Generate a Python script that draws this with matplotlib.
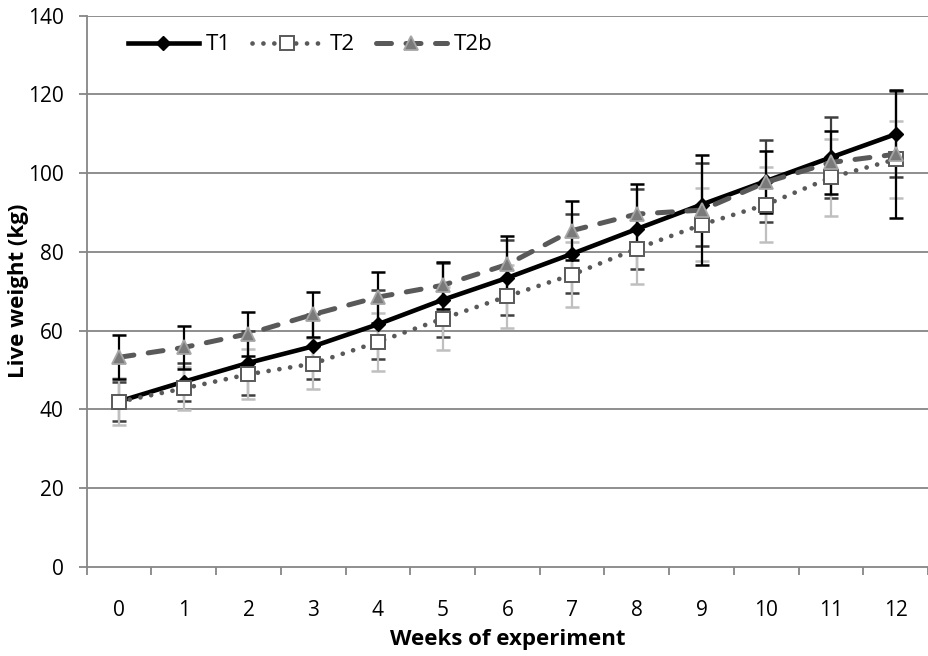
import matplotlib
matplotlib.use("Agg")
import matplotlib.pyplot as plt
import numpy as np

plt.rcParams['font.family'] = ['Open Sans', 'DejaVu Sans']

weeks = list(range(13))
t1 = [42.0, 47.0, 51.8, 56.0, 61.6, 67.8, 73.4, 79.5, 85.8, 92.0, 98.0, 104.0, 109.9]
t1_err = [5.0, 4.8, 8.2, 8.3, 8.7, 9.4, 9.5, 10.0, 10.2, 10.5, 10.5, 10.3, 11.0]
t2 = [41.9, 45.3, 48.9, 51.6, 57.1, 63.0, 68.7, 74.2, 80.8, 86.9, 92.0, 98.9, 103.5]
t2_err = [6.0, 5.5, 6.3, 6.5, 7.3, 8.0, 8.0, 8.2, 8.9, 9.3, 9.5, 9.7, 9.7]
t2b = [53.2, 55.7, 59.2, 64.1, 68.5, 71.5, 76.8, 85.4, 89.6, 90.6, 97.7, 102.7, 104.8]
t2b_err = [5.6, 5.4, 5.6, 5.8, 6.5, 5.9, 7.1, 7.4, 7.6, 13.9, 7.9, 8.0, 16.2]
series_names = ["T1", "T2", "T2b"]

fig = plt.figure(figsize=(9.29, 6.56), dpi=100)
ax = fig.add_axes([0.0933, 0.1361, 0.9057, 0.8400])

grid_c = '#868686'
ax.set_xlim(-0.5, 12.5)
ax.set_ylim(0, 140)
ax.set_yticks(np.arange(0, 141, 20))
for y in np.arange(20, 141, 20):
    ax.axhline(y, color=grid_c, lw=1.3, zorder=0)

ax.set_xticks(weeks)
ax.set_xticks(np.arange(-0.5, 12.6, 1), minor=True)
ax.tick_params(axis='x', which='major', length=0, pad=24, labelsize=15)
ax.tick_params(axis='x', which='minor', length=6, width=1.3, color=grid_c, direction='out')
ax.tick_params(axis='y', length=5.5, width=1.3, color=grid_c, direction='out', labelsize=15, pad=11)
for s in ['top', 'right']:
    ax.spines[s].set_visible(False)
for s in ['left', 'bottom']:
    ax.spines[s].set_color(grid_c)
    ax.spines[s].set_linewidth(1.3)

ek = dict(fmt='none', capsize=5, elinewidth=1.6, capthick=1.8, zorder=2)
ax.errorbar(weeks, t1, yerr=t1_err, ecolor='#3f3f3f', **ek)
ax.errorbar(weeks, t2, yerr=t2_err, ecolor='#bfbfbf', **ek)
ax.errorbar(weeks, t2b, yerr=t2b_err, ecolor='#000000', **ek)

l1, = ax.plot(weeks, t1, color='black', lw=3.3, marker='D', ms=7.5,
              mfc='black', mec='black', zorder=3, label=series_names[0])
l2, = ax.plot(weeks, t2, color='#595959', lw=3.4, ls=(0, (0.01, 2.3)),
              dash_capstyle='round', marker='s', ms=9.5, mfc='white',
              mec='#595959', mew=1.4, zorder=4, label=series_names[1])
l3, = ax.plot(weeks, t2b, color='#595959', lw=3.6, ls=(0, (3.0, 2.9)),
              dash_capstyle='round', marker='^', ms=10.5, mfc='#7a7a7a',
              mec='#a6a6a6', mew=1.3, zorder=5, label=series_names[2])

ax.legend(handles=[l1, l2, l3], loc='center left', bbox_to_anchor=(0.049, 0.947),
          ncol=3, frameon=False, fontsize=16, handlelength=3.2,
          handletextpad=0.3, columnspacing=0.95, borderaxespad=0, borderpad=0)

ax.set_xlabel('Weeks of experiment', fontsize=16, fontweight='bold', labelpad=6)
ax.set_ylabel('Live weight (kg)', fontsize=16, fontweight='bold', labelpad=-1)

fig.savefig('out.png', dpi=100)
